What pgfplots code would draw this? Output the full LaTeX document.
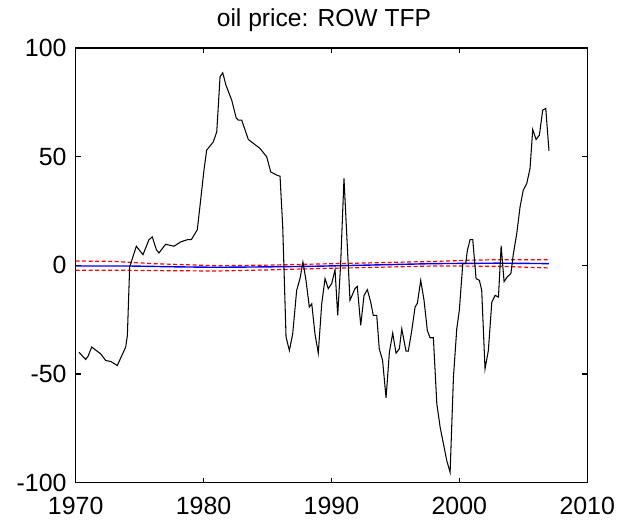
\documentclass[border=0pt]{standalone}
\usepackage{fontspec}
\setmainfont{Liberation Sans}
\usepackage{pgfplots}
\pgfplotsset{compat=1.18}
\begin{document}
\begin{tikzpicture}
\begin{axis}[
  at={(75.7bp,42.3bp)}, anchor=south west,
  scale only axis, width=511.5bp, height=434.7bp,
  xmin=1970, xmax=2010, ymin=-100, ymax=100,
  xtick={1970,1980,1990,2000,2010}, ytick={-100,-50,0,50,100},
  tick align=inside, major tick length=5bp,
  axis line style={line width=1.3bp},
  every tick/.style={black, line width=1.1bp},
  /pgf/number format/assume math mode=true,
  /pgf/number format/1000 sep={},
  tick label style={font=\fontsize{25}{30}\selectfont, inner sep=0pt},
  xticklabel style={anchor=north, yshift=-14bp},
  yticklabel style={anchor=east, xshift=-9bp},
  title={oil price: ROW TFP},
  title style={font=\fontsize{24.7}{30}\selectfont, at={(0.5,1)}, anchor=base, yshift=16bp, xshift=-7.5bp, inner sep=0pt},
]
\addplot[red, line width=1.2bp, dash pattern=on 4bp off 2.5bp] coordinates {
(1970,2.0) (1973,1.8) (1974.2,1.4) (1976,0.8) (1981,-0.2) (1985,0.1) (1988.8,0.6) (1992,1.0) (1995,1.4) (1998,1.8) (2001,2.4) (2003,2.6) (2007,2.6)};
\addplot[red, line width=1.2bp, dash pattern=on 4bp off 2.5bp] coordinates {
(1970,-2.3) (1974.2,-2.3) (1978,-2.5) (1981,-2.6) (1985,-2.1) (1988.8,-1.5) (1992,-1.1) (1995,-0.7) (1998,-0.3) (2003,-0.4) (2007,-1.2)};
\addplot[blue, line width=1.4bp] coordinates {
(1970,-0.3) (1974.2,-0.3) (1978,-0.7) (1981,-0.9) (1985,-0.7) (1988.8,-0.4) (1992,0.0) (1995,0.4) (1998,0.8) (2003,1.0) (2007,0.8)};
\addplot[black, line width=1.05bp] coordinates {
(1970.26,-40.0) (1970.78,-43.3) (1970.96,-41.9) (1971.25,-37.6) (1971.95,-40.7)
(1972.35,-43.8) (1972.74,-44.2) (1973.25,-46.1) (1973.91,-37.6) (1974.04,-32.3)
(1974.22,-0.8) (1974.74,8.8) (1975.26,4.9) (1975.73,11.8) (1975.99,13.1)
(1976.31,7.2) (1976.51,5.7) (1977.03,9.7) (1977.69,8.8) (1978.21,10.8)
(1978.73,11.8) (1979.04,11.8) (1979.51,16.4) (1979.77,30) (1980.03,43.8)
(1980.24,53) (1980.76,56.8) (1981.03,61.4) (1981.29,86.8) (1981.5,88.6)
(1981.75,82.9) (1982.2,76) (1982.54,68) (1982.72,66.8) (1982.98,66.8)
(1983.5,57.9) (1983.9,56.1) (1984.41,53.8) (1984.94,49.9) (1985.25,43)
(1985.72,41.5) (1985.98,41) (1986.19,17.6) (1986.45,-33) (1986.71,-39.2)
(1986.97,-31.5) (1987.28,-11.5) (1987.54,-6.1) (1987.77,1.5) (1988.01,-6.9)
(1988.27,-19.2) (1988.46,-17.7) (1988.71,-31.5) (1988.97,-40.4) (1989.24,-17.6)
(1989.5,-6.1) (1989.75,-10.7) (1990.02,-8.4) (1990.28,-2) (1990.49,-23)
(1990.72,0.8) (1990.98,40) (1991.45,-16.1) (1991.84,-10.7) (1992.02,-9.7)
(1992.29,-27.6) (1992.55,-13.8) (1992.81,-11.2) (1993.07,-16.9) (1993.27,-23)
(1993.54,-23) (1993.74,-38.4) (1994.0,-43.8) (1994.27,-61) (1994.53,-40)
(1994.79,-31.2) (1995.05,-40.4) (1995.31,-38.4) (1995.5,-29.2) (1995.83,-39.5)
(1996.01,-39.5) (1996.28,-30) (1996.54,-19.2) (1996.72,-17.4) (1996.98,-6.9)
(1997.24,-16.1) (1997.5,-30) (1997.71,-33.3) (1997.97,-33.3) (1998.24,-63.7)
(1998.5,-74.5) (1998.76,-82.2) (1999.02,-89.9) (1999.28,-95.2) (1999.54,-51.5)
(1999.8,-29.2) (2000.0,-20.7) (2000.27,0.8) (2000.5,0.8) (2000.63,6.9)
(2000.84,11.8) (2001.05,11.8) (2001.31,-6.1) (2001.57,-6.9) (2001.75,-11.5)
(2002.01,-47.6) (2002.27,-39.2) (2002.54,-16.9) (2002.8,-13.8) (2003.06,-14.6)
(2003.27,9.0) (2003.5,-7.5) (2003.76,-5.2) (2004.03,-3.8) (2004.23,5.4)
(2004.49,14.6) (2004.75,26.9) (2005.0,34.6) (2005.27,37.6) (2005.53,44.6)
(2005.74,62.5) (2006.0,57.9) (2006.26,59.9) (2006.52,71.4) (2006.76,72.2)
(2007.01,52.7)};
\end{axis}
\pgfresetboundingbox
\path[use as bounding box] (0,0) rectangle (632bp,525bp);
\end{tikzpicture}
\end{document}
